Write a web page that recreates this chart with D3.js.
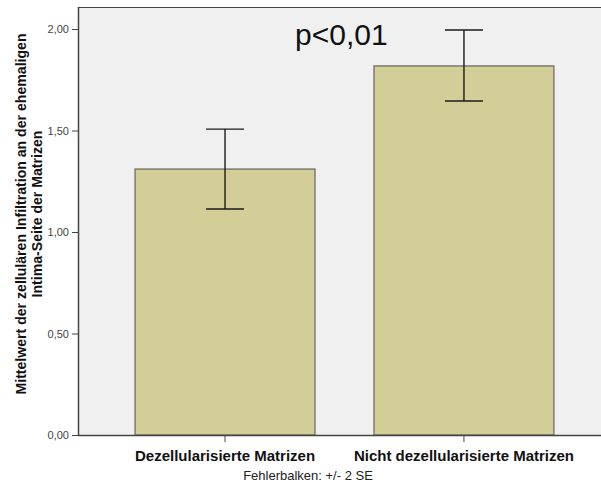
<!DOCTYPE html>
<html><head><meta charset="utf-8">
<script src="https://cdn.jsdelivr.net/npm/d3@7"></script>
<style>body{margin:0;background:#fff}svg{display:block}</style>
</head><body>
<svg id="chart" width="601" height="484"></svg>
<script>
const categories = ["Dezellularisierte Matrizen", "Nicht dezellularisierte Matrizen"];
const means = [1.31, 1.818];
const errLow = [1.113, 1.645];
const errHigh = [1.507, 1.995];
const yTicks = [0, 0.5, 1.0, 1.5, 2.0];
const yTickLabels = ["0,00", "0,50", "1,00", "1,50", "2,00"];
const yLabelLines = ["Mittelwert der zellulären Infiltration an der ehemaligen", "Intima-Seite der Matrizen"];
const annotation = "p<0,01";
const footnote = "Fehlerbalken: +/- 2 SE";

(function () {
const svg = d3.select("#chart");
const pLeft = 78, pRight = 601, pBottom = 435, pTop = 7;
const y = d3.scaleLinear().domain([0, 2]).range([pBottom, 29]);
const x = d3.scaleBand().domain(categories).range([pLeft, pRight])
  .paddingInner(0.247).paddingOuter(0.218).align(0.548);
const font = "'Liberation Sans', Arial, sans-serif";

svg.append("rect").attr("x", pLeft).attr("y", pTop).attr("width", pRight - pLeft).attr("height", pBottom - pTop)
  .attr("fill", "#f0f0f0");
svg.append("line").attr("x1", pLeft).attr("x2", pRight).attr("y1", pTop + 0.5).attr("y2", pTop + 0.5)
  .attr("stroke", "#444").attr("stroke-width", 1);

// bars
svg.selectAll("rect.bar").data(categories).enter().append("rect").attr("class", "bar")
  .attr("x", d => x(d)).attr("width", x.bandwidth())
  .attr("y", (d, i) => y(means[i])).attr("height", (d, i) => pBottom - y(means[i]))
  .attr("fill", "#d3ce97").attr("stroke", "#6e6e62").attr("stroke-width", 1.3);

// error bars
const cap = 19;
const eb = svg.selectAll("g.eb").data(categories).enter().append("g")
  .attr("stroke", "#1a1a1a").attr("stroke-width", 1.4);
eb.append("line").attr("x1", d => x(d) + x.bandwidth() / 2).attr("x2", d => x(d) + x.bandwidth() / 2)
  .attr("y1", (d, i) => y(errLow[i])).attr("y2", (d, i) => y(errHigh[i]));
eb.append("line").attr("x1", d => x(d) + x.bandwidth() / 2 - cap).attr("x2", d => x(d) + x.bandwidth() / 2 + cap)
  .attr("y1", (d, i) => y(errLow[i])).attr("y2", (d, i) => y(errLow[i]));
eb.append("line").attr("x1", d => x(d) + x.bandwidth() / 2 - cap).attr("x2", d => x(d) + x.bandwidth() / 2 + cap)
  .attr("y1", (d, i) => y(errHigh[i])).attr("y2", (d, i) => y(errHigh[i]));

// y axis
const yAxis = d3.axisLeft(y).tickValues(yTicks).tickFormat((d, i) => yTickLabels[i]).tickSize(6).tickPadding(3);
const ga = svg.append("g").attr("transform", `translate(${pLeft},0)`).call(yAxis);
ga.select(".domain").attr("d", `M0.5,${pTop}V${pBottom}`).attr("stroke", "#444").attr("stroke-width", 1.5);
ga.selectAll(".tick line").attr("stroke", "#444");
ga.selectAll(".tick text").attr("font-family", font).attr("font-size", 11).attr("fill", "#444");

// x axis
const xAxis = d3.axisBottom(x).tickSize(7).tickPadding(8);
const gx = svg.append("g").attr("transform", `translate(0,${pBottom})`).call(xAxis);
gx.select(".domain").attr("d", `M${pLeft},0.5H${pRight}`).attr("stroke", "#444").attr("stroke-width", 1.5);
gx.selectAll(".tick line").attr("stroke", "#444");
gx.selectAll(".tick text").attr("font-family", font).attr("font-size", 15).attr("font-weight", "bold")
  .attr("fill", "#111");

// y label
const yl = svg.append("text").attr("transform", "translate(26,214) rotate(-90)")
  .attr("text-anchor", "middle").attr("font-family", font).attr("font-size", 14.1).attr("font-weight", "bold")
  .attr("fill", "#111");
yl.selectAll("tspan").data(yLabelLines).enter().append("tspan")
  .attr("x", 0).attr("dy", (d, i) => i === 0 ? 0 : 16).text(d => d);

// annotation
svg.append("text").attr("x", 295).attr("y", 45).attr("font-family", font).attr("font-size", 30)
  .attr("fill", "#111").text(annotation);

// footnote
svg.append("text").attr("x", 308).attr("y", 480).attr("text-anchor", "middle").attr("font-family", font)
  .attr("font-size", 13).attr("fill", "#222").text(footnote);
})();
</script>
</body></html>
